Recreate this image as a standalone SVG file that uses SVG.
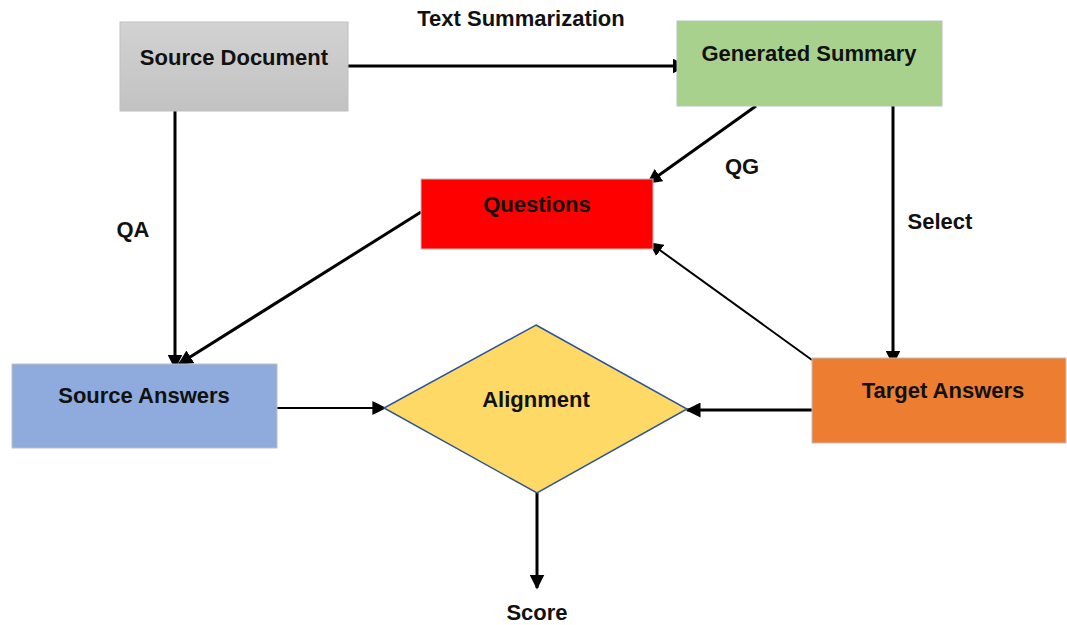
<svg xmlns="http://www.w3.org/2000/svg" width="1067" height="625" viewBox="0 0 1067 625">
  <style>
    text { font-family: "Liberation Sans", Arial, sans-serif; font-weight: bold; font-size: 22px; fill: #111; text-anchor: middle; }
    .box { stroke: #bfbfbf; stroke-width: 1; }
    .conn { fill: none; stroke: #000; stroke-width: 3; }
    .thin { stroke-width: 2; }
  </style>
  <defs>
    <linearGradient id="grayFill" x1="0" y1="0" x2="0" y2="1">
      <stop offset="0" stop-color="#d2d2d2"/>
      <stop offset="1" stop-color="#c2c2c2"/>
    </linearGradient>
    <marker id="arrow" viewBox="0 0 10 10" refX="9" refY="5" markerWidth="5" markerHeight="5" markerUnits="strokeWidth" orient="auto">
      <path d="M0,0 L10,5 L0,10 z" fill="#000"/>
    </marker>
    <marker id="arrowThin" viewBox="0 0 10 10" refX="9" refY="5" markerWidth="7" markerHeight="7" markerUnits="strokeWidth" orient="auto">
      <path d="M0,0 L10,5 L0,10 z" fill="#000"/>
    </marker>
  </defs>

  <!-- connectors -->
  <g id="connectors">
    <line class="conn" x1="348" y1="66" x2="686" y2="66" marker-end="url(#arrow)"/>
    <line class="conn" x1="175" y1="111" x2="175" y2="368" marker-end="url(#arrow)"/>
    <line class="conn" x1="756" y1="106" x2="648" y2="183" marker-end="url(#arrow)"/>
    <line class="conn" x1="893" y1="106" x2="893" y2="364" marker-end="url(#arrow)"/>
    <line class="conn" x1="421" y1="212" x2="179" y2="364" marker-end="url(#arrow)"/>
    <line class="conn thin" x1="812" y1="360" x2="650" y2="243" marker-end="url(#arrowThin)"/>
    <line class="conn thin" x1="277" y1="408" x2="385" y2="408" marker-end="url(#arrowThin)"/>
    <line class="conn" x1="812" y1="410" x2="687" y2="410" marker-end="url(#arrow)"/>
    <line class="conn" x1="537" y1="493" x2="537" y2="588" marker-end="url(#arrow)"/>
    <text x="521" y="26">Text Summarization</text>
    <text x="133" y="237">QA</text>
    <text x="742" y="174">QG</text>
    <text x="940" y="229">Select</text>
    <text x="537" y="620">Score</text>
  </g>

  <g id="source-document">
    <rect class="box" x="120" y="22" width="228" height="89" fill="url(#grayFill)"/>
    <text x="234" y="65">Source Document</text>
  </g>

  <g id="generated-summary">
    <rect class="box" x="677" y="21" width="265" height="85" fill="#a9d18e"/>
    <text x="809" y="61">Generated Summary</text>
  </g>

  <g id="questions">
    <rect class="box" x="421" y="179" width="232" height="70" fill="#ff0000"/>
    <text x="537" y="212">Questions</text>
  </g>

  <g id="source-answers">
    <rect class="box" x="12" y="364" width="265" height="84" fill="#8faadc"/>
    <text x="144" y="403">Source Answers</text>
  </g>

  <g id="alignment">
    <polygon points="536,325 687,409 537,493 384,408" fill="#ffd966" stroke="#2f5597" stroke-width="1.5"/>
    <text x="536" y="407">Alignment</text>
  </g>

  <g id="target-answers">
    <rect class="box" x="812" y="358" width="254" height="85" fill="#ed7d31"/>
    <text x="943" y="398">Target Answers</text>
  </g>
</svg>
